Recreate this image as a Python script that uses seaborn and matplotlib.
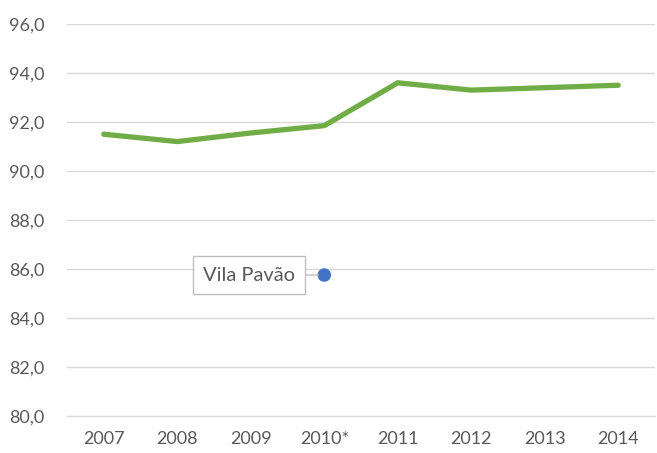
import pandas as pd
import matplotlib
matplotlib.use("Agg")
import matplotlib.pyplot as plt
import seaborn as sns

# --------------------------------------------------------
# Data
# --------------------------------------------------------
years = ["2007", "2008", "2009", "2010*", "2011", "2012", "2013", "2014"]
values = [91.5, 91.2, 91.55, 91.85, 93.6, 93.3, 93.4, 93.5]

point_label = "Vila Pavão"
point_year = "2010*"
point_value = 85.75

y_ticks = [80, 82, 84, 86, 88, 90, 92, 94, 96]

GREEN = "#70AD47"
BLUE = "#4472C4"
TEXT = "#595959"
GRID = "#D9D9D9"

# --------------------------------------------------------
# Plot
# --------------------------------------------------------
def main():
    sns.set_style("white")
    plt.rcParams["font.family"] = ["Lato", "DejaVu Sans"]

    df = pd.DataFrame({"Ano": years, "Valor": values})
    pt = pd.DataFrame({"Ano": [point_year], "Valor": [point_value]})

    fig = plt.figure(figsize=(6.57, 4.53), dpi=100)
    ax = fig.add_axes([0.102, 0.082, 0.895, 0.865])

    sns.lineplot(data=df, x="Ano", y="Valor", sort=False, color=GREEN,
                 linewidth=3.8, ax=ax, zorder=3)
    ax.lines[-1].set_solid_capstyle("round")
    ax.lines[-1].set_solid_joinstyle("round")

    sns.scatterplot(data=pt, x="Ano", y="Valor", color=BLUE, s=95,
                    edgecolor="none", ax=ax, zorder=4)

    # callout label
    xi = years.index(point_year)
    ax.annotate(point_label, xy=(xi - 0.08, point_value),
                xytext=(xi - 1.02, point_value),
                ha="center", va="center", fontsize=14.5, color=TEXT,
                bbox=dict(boxstyle="square,pad=0.5", fc="white", ec="#BFBFBF", lw=1),
                arrowprops=dict(arrowstyle="-", color="#BFBFBF", lw=1,
                                shrinkA=0, shrinkB=0),
                zorder=5)

    ax.set_ylim(80, 96)
    ax.set_yticks(y_ticks)
    ax.set_yticklabels([f"{v:.1f}".replace(".", ",") for v in y_ticks])
    ax.set_xlim(-0.5, len(years) - 0.5)

    ax.yaxis.grid(True, color=GRID, linewidth=1)
    ax.set_axisbelow(True)
    for side in ["top", "right", "left"]:
        ax.spines[side].set_visible(False)
    ax.spines["bottom"].set_color(GRID)

    ax.tick_params(axis="both", length=0, labelsize=13, labelcolor=TEXT)
    ax.tick_params(axis="y", pad=16)
    ax.tick_params(axis="x", pad=11)
    ax.set_xlabel("")
    ax.set_ylabel("")

    fig.savefig("out.png", dpi=100)
    plt.close(fig)


if __name__ == "__main__":
    main()
